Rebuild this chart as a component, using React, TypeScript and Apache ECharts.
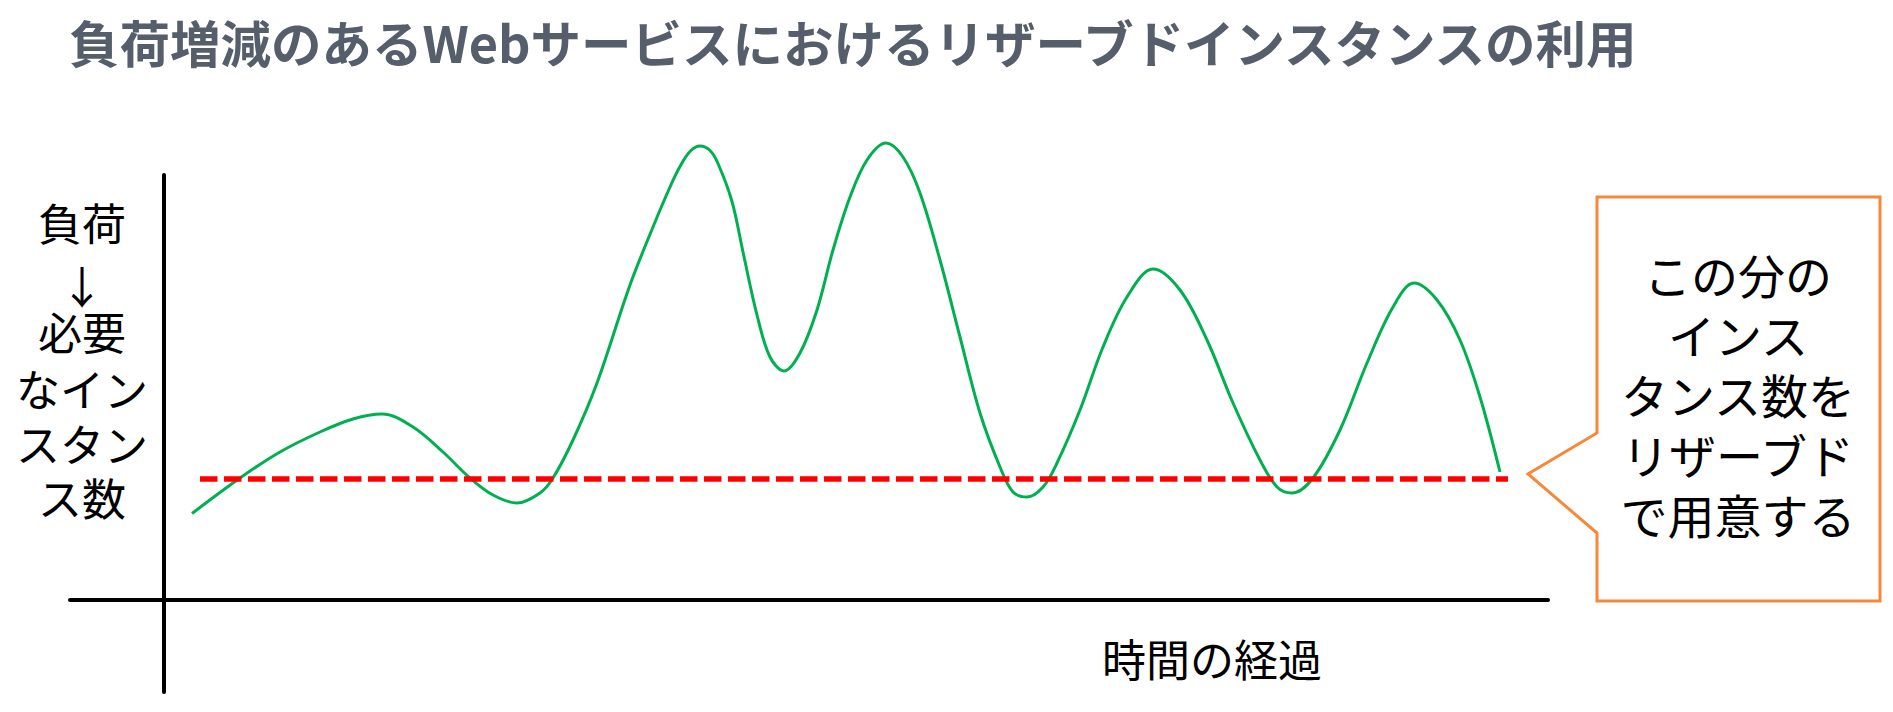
import React, { useEffect, useRef } from "react";
import * as echarts from "echarts";

// ---- data ----
const titleText = "負荷増減のあるWebサービスにおけるリザーブドインスタンスの利用";
const yLabelLines = ["負荷", "↓", "必要", "なイン", "スタン", "ス数"];
const xLabelText = "時間の経過";
const calloutLines = ["この分の", "インス", "タンス数を", "リザーブド", "で用意する"];

// time (x) and load (y) samples along the green curve
const timePoints = [
  2.8, 7.6, 11.6, 15.6, 18.9, 21.8, 24.9, 27.9, 30.6, 32.9, 35.3, 37.6, 38.9, 40.9, 43.3, 46.6,
  48.9, 50.6, 51.6, 52.6, 53.6, 54.6, 55.4, 56.8, 57.9, 59.3, 60.6, 62.0, 63.6, 65.3, 66.9, 68.6,
  70.3, 72.2, 73.9, 75.6, 77.6, 79.6, 81.6, 83.6, 84.9, 86.3, 87.9, 89.3, 91.6, 93.9, 96.3, 98.9,
  101.6, 104.3, 106.9, 109.6, 111.3, 112.8, 114.9, 117.6, 120.3, 122.9, 125.0, 127.3, 129.6, 131.6,
  133.6,
];
const loadValues = [
  17.3, 24.4, 29.6, 33.6, 36.2, 37.2, 34.6, 29.6, 24.4, 21.0, 19.4, 21.4, 24.4, 32.0, 43.4, 63.0,
  74.6, 82.6, 86.7, 89.7, 90.8, 89.9, 87.3, 79.7, 69.6, 57.0, 48.6, 45.8, 49.4, 58.0, 70.0, 80.6,
  88.0, 91.4, 88.6, 81.4, 68.0, 52.6, 37.4, 26.6, 21.6, 20.6, 22.6, 27.4, 38.0, 50.6, 60.6, 66.2,
  62.0, 52.0, 39.4, 28.0, 22.6, 21.4, 24.4, 34.0, 47.4, 58.6, 63.4, 60.0, 52.0, 40.6,
  25.6,
];
const reservedLevel = 24.2;
const reservedRange = [3.6, 134.4];

// ---- layout ----
const FONT = '"Noto Sans CJK JP", "Noto Sans CJK SC", sans-serif';
const yLabelCenterX = 82;
const yLabelLineY = [222, 285, 331, 388, 443, 497];
const calloutCenterX = 1738;
const calloutLineY = [273, 333, 393, 453, 513];

export default function App() {
  const ref = useRef<HTMLDivElement>(null);

  useEffect(() => {
    if (!ref.current) return;
    const chart = echarts.init(ref.current, null, { renderer: "svg" });

    const axisCommon = {
      type: "value" as const,
      axisLine: { show: true, onZero: true, lineStyle: { color: "#000000", width: 4 } },
      axisTick: { show: false },
      axisLabel: { show: false },
      splitLine: { show: false },
    };

    const textStyle = (text: string, size: number) => ({
      text,
      fontFamily: FONT,
      fontSize: size,
      fill: "#000000",
      align: "center",
      verticalAlign: "middle",
    });

    chart.setOption({
      animation: false,
      backgroundColor: "#ffffff",
      title: {
        text: titleText,
        left: 64,
        top: 11,
        textStyle: { fontFamily: FONT, fontSize: 50.5, fontWeight: "bold", color: "#555E6A" },
      },
      grid: { left: 70, right: 345, top: 175, bottom: 20, containLabel: false },
      xAxis: { ...axisCommon, min: -9.4, max: 138.4 },
      yAxis: { ...axisCommon, min: -18.4, max: 85 },
      series: [
        {
          type: "line",
          data: timePoints.map((t, i) => [t, loadValues[i]]),
          smooth: 0.35,
          showSymbol: false,
          clip: false,
          lineStyle: { color: "#00B050", width: 3 },
          z: 3,
        },
        {
          type: "line",
          data: reservedRange.map((t) => [t, reservedLevel]),
          showSymbol: false,
          clip: false,
          lineStyle: { color: "#FF0000", width: 5.5, type: [17.5, 6.5], cap: "butt" },
          z: 4,
        },
      ],
      graphic: [
        ...yLabelLines.map((line, i) => ({
          type: "text",
          x: yLabelCenterX,
          y: yLabelLineY[i],
          style: textStyle(line, 44),
        })),
        {
          type: "text",
          x: 1212,
          y: 658,
          style: textStyle(xLabelText, 44),
        },
        {
          type: "polygon",
          shape: {
            points: [
              [1597, 197],
              [1880, 197],
              [1880, 601],
              [1597, 601],
              [1597, 533],
              [1528, 474],
              [1597, 433],
            ],
          },
          style: { fill: "#ffffff", stroke: "#F5883A", lineWidth: 3 },
          z: 10,
        },
        ...calloutLines.map((line, i) => ({
          type: "text",
          x: calloutCenterX,
          y: calloutLineY[i],
          style: textStyle(line, 47),
          z: 11,
        })),
      ],
    });

    return () => chart.dispose();
  }, []);

  return (
    <div
      ref={ref}
      style={{ position: "absolute", left: 0, top: 0, width: 1893, height: 712, background: "#ffffff" }}
    />
  );
}
